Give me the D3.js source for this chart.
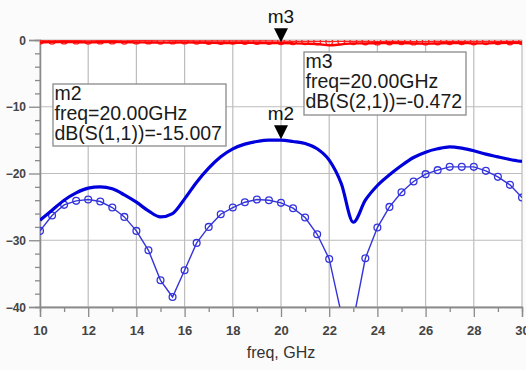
<!DOCTYPE html>
<html><head><meta charset="utf-8">
<script src="https://cdn.jsdelivr.net/npm/d3@7"></script>
<style>
html,body{margin:0;padding:0;background:#fbfbfb;}
svg{display:block;font-family:"Liberation Sans",Arial,sans-serif;}
</style></head>
<body><svg id="c" width="526" height="370"></svg>
<script>
// ---- data ----
const freq = d3.range(10, 30.001, 0.5).map(v => +v.toFixed(1));
const s11Sim = [-27.0,-25.5,-24.0,-22.9,-22.2,-22.0,-22.3,-23.2,-24.3,-25.6,-26.5,-26.0,-23.8,-21.3,-19.2,-17.5,-16.3,-15.6,-15.2,-15.0,-15.0,-15.2,-15.5,-16.3,-18.0,-21.5,-27.3,-24.0,-21.8,-20.2,-18.8,-17.6,-16.8,-16.3,-16.0,-16.2,-16.6,-17.1,-17.5,-17.9,-18.2];
const s11Meas = [-28.6,-26.3,-24.7,-24.1,-23.9,-24.2,-25.1,-26.5,-28.6,-31.5,-36.0,-38.5,-34.5,-30.4,-28.0,-26.1,-25.1,-24.3,-23.9,-24.0,-24.4,-25.2,-26.6,-29.1,-32.8,-41.0,-42.0,-32.7,-28.1,-25.0,-22.8,-21.2,-20.1,-19.5,-19.0,-19.0,-19.0,-19.6,-20.5,-21.7,-23.6];
const s21Sim = [-0.35,-0.3,-0.3,-0.32,-0.35,-0.33,-0.3,-0.32,-0.35,-0.37,-0.4,-0.38,-0.36,-0.38,-0.42,-0.45,-0.44,-0.42,-0.45,-0.47,-0.472,-0.5,-0.55,-0.6,-0.8,-0.65,-0.5,-0.5,-0.48,-0.45,-0.45,-0.5,-0.55,-0.5,-0.45,-0.45,-0.5,-0.5,-0.45,-0.42,-0.45];
const s21Meas = [-0.1,-0.12,-0.1,-0.1,-0.12,-0.1,-0.1,-0.12,-0.1,-0.1,-0.12,-0.1,-0.1,-0.12,-0.15,-0.15,-0.12,-0.15,-0.15,-0.15,-0.18,-0.2,-0.2,-0.22,-0.25,-0.2,-0.2,-0.22,-0.25,-0.22,-0.2,-0.25,-0.25,-0.22,-0.2,-0.2,-0.22,-0.2,-0.2,-0.22,-0.2];
const xTicks = [10,12,14,16,18,20,22,24,26,28,30];
const xMinor = [11,13,15,17,19,21,23,25,27,29];
const yTicks = [0,-10,-20,-30,-40];
const yMinor = [-2,-4,-6,-8,-12,-14,-16,-18,-22,-24,-26,-28,-32,-34,-36,-38];
const markers = [
  {name:"m3", f:20, v:-0.472, trace:"dB(S(2,1))", val:"-0.472"},
  {name:"m2", f:20, v:-15.007, trace:"dB(S(1,1))", val:"-15.007"}
];
const xLabel = "freq, GHz";

// ---- chart ----
const svg = d3.select("#c");
const x = d3.scaleLinear().domain([10,30]).range([40,522]);
const y = d3.scaleLinear().domain([-40,0]).range([307,40]);

svg.append("rect").attr("x",x(10)).attr("y",y(0)).attr("width",x(30)-x(10)).attr("height",y(-40)-y(0)).attr("fill","#fff");

// grid
svg.append("g").selectAll("line").data(xTicks).join("line")
  .attr("x1",d=>x(d)).attr("x2",d=>x(d)).attr("y1",y(0)).attr("y2",y(-40))
  .attr("stroke","#bdbdbd").attr("stroke-width",1.2);
svg.append("g").selectAll("line").data(yTicks).join("line")
  .attr("x1",x(10)).attr("x2",x(30)).attr("y1",d=>y(d)).attr("y2",d=>y(d))
  .attr("stroke","#bdbdbd").attr("stroke-width",1.2);

// axes
const xAxis = svg.append("g").attr("transform",`translate(0,${y(-40)})`)
  .call(d3.axisBottom(x).tickValues(xTicks).tickFormat(d3.format("d")).tickSize(10).tickPadding(6));
const xAxisMinor = svg.append("g").attr("transform",`translate(0,${y(-40)})`)
  .call(d3.axisBottom(x).tickValues(xMinor).tickFormat("").tickSize(5));
const yAxis = svg.append("g").attr("transform",`translate(${x(10)},0)`)
  .call(d3.axisLeft(y).tickValues(yTicks).tickFormat(d3.format("d")).tickSize(11).tickPadding(3));
const yAxisMinor = svg.append("g").attr("transform",`translate(${x(10)},0)`)
  .call(d3.axisLeft(y).tickValues(yMinor).tickFormat("").tickSize(5));
[xAxis,xAxisMinor,yAxis,yAxisMinor].forEach(g=>{
  g.select(".domain").attr("stroke","#8a8a8a").attr("stroke-width",1.3);
  g.selectAll(".tick line").attr("stroke","#8a8a8a").attr("stroke-width",1.3);
  g.selectAll(".tick text").attr("fill","#444").attr("font-size",13).attr("font-weight","bold")
   .attr("font-family","'Liberation Sans',Arial,sans-serif");
});
yAxis.selectAll(".tick text").attr("font-size",12).attr("dy","0.35em");
xAxis.selectAll(".tick text").attr("dy","0.9em");

svg.append("text").attr("x",281).attr("y",358).attr("text-anchor","middle")
  .attr("font-size",16).attr("fill","#333").text(xLabel);

// clip
svg.append("clipPath").attr("id","clip").append("rect")
  .attr("x",x(10)).attr("y",y(0)).attr("width",x(30)-x(10)).attr("height",y(-40)-y(0));
const plot = svg.append("g").attr("clip-path","url(#clip)");

const line = d3.line().x(d=>x(d[0])).y(d=>y(d[1]));
const smooth = d3.line().x(d=>x(d[0])).y(d=>y(d[1])).curve(d3.curveMonotoneX);
const zip = arr => freq.map((f,i)=>[f,arr[i]]);

// red traces
plot.append("path").datum(zip(s21Meas)).attr("d",line).attr("fill","none").attr("stroke","#ff2020").attr("stroke-width",1.3);
plot.append("g").selectAll("circle").data(zip(s21Meas)).join("circle")
  .attr("cx",d=>x(d[0])).attr("cy",d=>y(d[1])).attr("r",3.3)
  .attr("fill","none").attr("stroke","#ff2020").attr("stroke-width",1.3);
plot.append("path").datum(zip(s21Sim)).attr("d",smooth).attr("fill","none").attr("stroke","#ff0000").attr("stroke-width",2.4);

// blue traces
plot.append("path").datum(zip(s11Meas)).attr("d",line).attr("fill","none").attr("stroke","#3434dc").attr("stroke-width",1.4);
plot.append("g").selectAll("circle").data(zip(s11Meas)).join("circle")
  .attr("cx",d=>x(d[0])).attr("cy",d=>y(d[1])).attr("r",3.4)
  .attr("fill","none").attr("stroke","#3434dc").attr("stroke-width",1.3);
plot.append("path").datum(zip(s11Sim)).attr("d",smooth).attr("fill","none").attr("stroke","#0000dc").attr("stroke-width",3.2)
  .attr("stroke-linejoin","round");

// markers
markers.forEach(m=>{
  const mx = x(m.f), my = y(m.v);
  svg.append("path").attr("d",`M${mx-7},${my-15}L${mx+7},${my-15}L${mx},${my-1}Z`).attr("fill","#000");
  svg.append("text").attr("x",mx).attr("y",my-20).attr("text-anchor","middle")
    .attr("font-size",19).attr("fill","#111").text(m.name);
});

// marker readout boxes
const boxes = [
  {m:markers[1], x:53, y:84, w:173, h:62},
  {m:markers[0], x:304, y:52, w:162, h:63}
];
boxes.forEach(b=>{
  svg.append("rect").attr("x",b.x).attr("y",b.y).attr("width",b.w).attr("height",b.h)
    .attr("fill","#fff").attr("stroke","#8a8a8a").attr("stroke-width",1.3);
  const lines = [b.m.name, `freq=${b.m.f.toFixed(2)}GHz`, `${b.m.trace}=${b.m.val}`];
  lines.forEach((t,i)=>{
    svg.append("text").attr("x",b.x+1.5).attr("y",b.y+16+i*20)
      .attr("font-size",19.5).attr("fill","#1a1a1a").text(t);
  });
});
</script></body></html>
